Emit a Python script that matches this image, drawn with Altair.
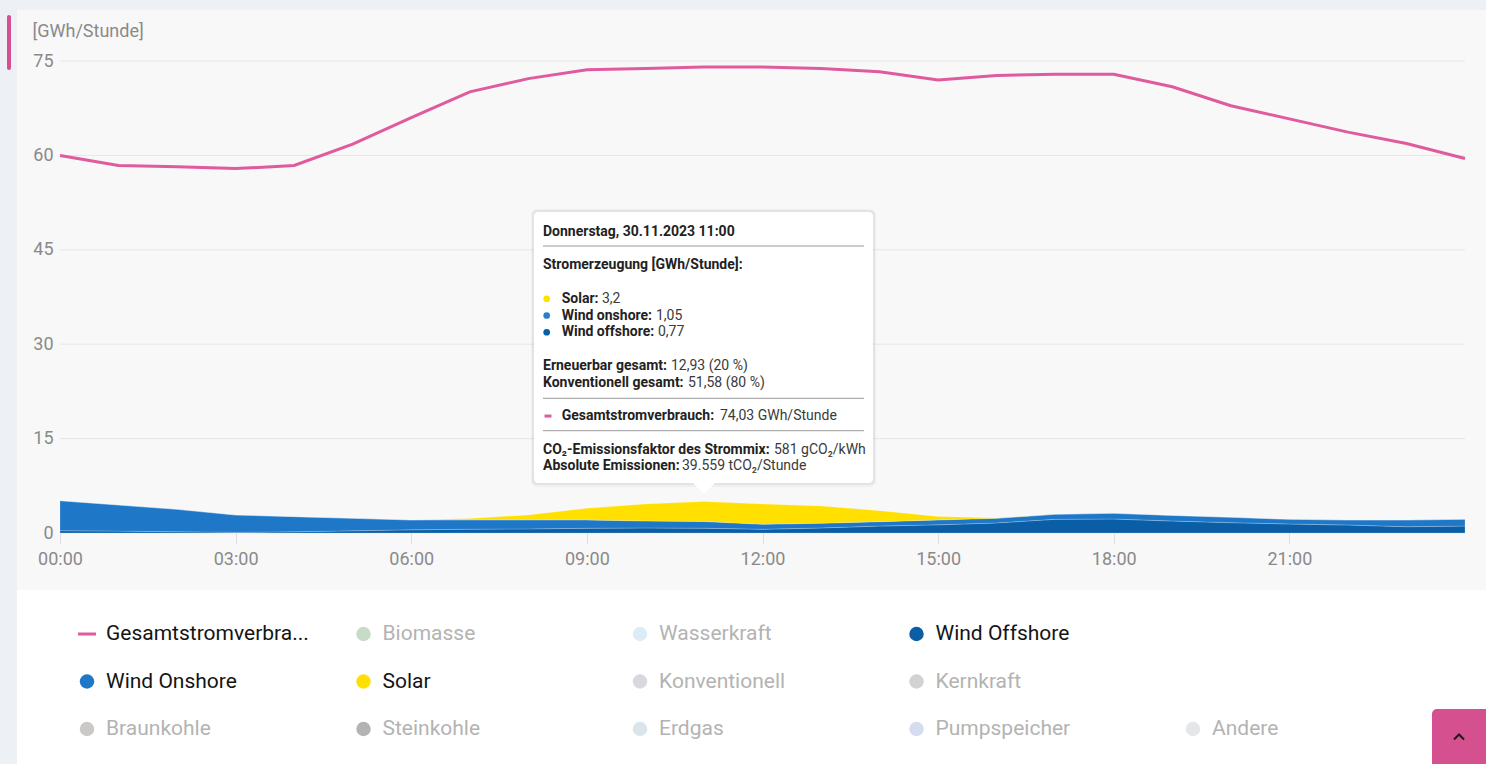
import altair as alt
import pandas as pd

# ---------------- data ----------------
HOURS = list(range(25))
GESAMTVERBRAUCH = [60.0, 58.4, 58.2, 57.9, 58.4, 61.8, 66.0, 70.1, 72.2, 73.6, 73.8, 74.03, 74.05,
                   73.8, 73.3, 72.0, 72.7, 72.9, 72.9, 70.9, 67.9, 65.8, 63.7, 61.9, 59.5]
WIND_OFFSHORE = [0.37, 0.3, 0.2, 0.1, 0.2, 0.35, 0.5, 0.6, 0.65, 0.75, 0.8, 0.77, 0.59,
                 0.8, 1.1, 1.3, 1.6, 2.17, 2.22, 1.9, 1.64, 1.43, 1.27, 1.0, 1.1]
WIND_ONSHORE = [4.76, 4.15, 3.56, 2.76, 2.4, 1.98, 1.57, 1.47, 1.42, 1.32, 1.1, 1.05, 0.79,
                0.74, 0.7, 0.77, 0.73, 0.8, 0.91, 0.9, 0.86, 0.74, 0.8, 1.07, 1.07]
SOLAR = [0, 0, 0, 0, 0, 0, 0, 0.25, 0.8, 1.85, 2.7, 3.2, 3.22,
         2.75, 1.75, 0.55, 0.05, 0, 0, 0, 0, 0, 0, 0, 0]

Y_TICKS = [0, 15, 30, 45, 60, 75]
X_TICKS = [0, 3, 6, 9, 12, 15, 18, 21]

SERIES = ["Wind Offshore", "Wind Onshore", "Solar"]
SERIES_COLORS = ["#0a5ea6", "#1f77c8", "#ffe000"]

LEGEND_ROWS = [
    ["Gesamtstromverbrauch", "Biomasse", "Wasserkraft", "Wind Offshore"],
    ["Wind Onshore", "Solar", "Konventionell", "Kernkraft"],
    ["Braunkohle", "Steinkohle", "Erdgas", "Pumpspeicher", "Andere"],
]
LEGEND_LABELS = {"Gesamtstromverbrauch": "Gesamtstromverbra..."}
LEGEND_COLORS = {
    "Gesamtstromverbrauch": "#e05a9e", "Biomasse": "#c6dcc6", "Wasserkraft": "#dcecf7",
    "Wind Offshore": "#0a5ea6", "Wind Onshore": "#1f77c8", "Solar": "#ffe000",
    "Konventionell": "#d8d8de", "Kernkraft": "#d2d2d2", "Braunkohle": "#cdc8c8",
    "Steinkohle": "#b3b3b3", "Erdgas": "#d9e5ea", "Pumpspeicher": "#d6dcef", "Andere": "#e5e6e8",
}
LEGEND_ACTIVE = ["Gesamtstromverbrauch", "Wind Offshore", "Wind Onshore", "Solar"]

TT_ROW = [0, 2, 4, 5, 6, 8, 9, 11, 13, 14]
TT_LABEL = ["Donnerstag, 30.11.2023 11:00", "Stromerzeugung [GWh/Stunde]:", "Solar:",
            "Wind onshore:", "Wind offshore:", "Erneuerbar gesamt:", "Konventionell gesamt:",
            "Gesamtstromverbrauch:", "CO₂-Emissionsfaktor des Strommix:", "Absolute Emissionen:"]
TT_VALUE = ["", "", "3,2", "1,05", "0,77", "12,93 (20 %)", "51,58 (80 %)",
            "74,03 GWh/Stunde", "581 gCO₂/kWh", "39.559 tCO₂/Stunde"]
TT_BULLET_COLORS = {4: "#ffe000", 5: "#2a7fc8", 6: "#0a5ea6"}

# ---------------- layout / style ----------------
FONT = "Roboto"
PINK = "#e05a9e"
LEFT, TOP = 60, 61
PW, PH = 1405, 472
VALUE_X = {4: 602, 5: 656, 6: 658, 8: 671, 9: 688, 11: 720, 13: 774, 14: 682}
INDENT_ROWS = [4, 5, 6, 11]
TT_Y0, TT_DY = 231.7, 16.76
LEG_X0, LEG_DX = 87, 276.5
LEG_Y0, LEG_DY = 634, 47.5


def px(x):
    return x - LEFT


def py(y):
    return y - TOP


one = pd.DataFrame({"k": [0]})


def box(x1, x2, y1, y2, color, **kw):
    return alt.Chart(one).mark_rect(color=color, **kw).encode(
        x=alt.value(px(x1)), x2=alt.value(px(x2)), y=alt.value(py(y1)), y2=alt.value(py(y2)))


def hrule(x1, x2, y, color):
    return alt.Chart(one).mark_rule(color=color, strokeWidth=1).encode(
        x=alt.value(px(x1)), x2=alt.value(px(x2)), y=alt.value(py(y)))


def label(x, y, text, **kw):
    return alt.Chart(one).mark_text(align="left", baseline="middle", font=FONT, text=text,
                                    **kw).encode(x=alt.value(px(x)), y=alt.value(py(y)))


def dot(x, y, color, size, **kw):
    return alt.Chart(one).mark_point(color=color, size=size, opacity=1, **kw).encode(
        x=alt.value(px(x)), y=alt.value(py(y)))


# ---------------- main plot ----------------
df = pd.DataFrame({"stunde": HOURS, "Wind Offshore": WIND_OFFSHORE, "Wind Onshore": WIND_ONSHORE,
                   "Solar": SOLAR, "verbrauch": GESAMTVERBRAUCH})
long = df.melt(id_vars="stunde", value_vars=SERIES, var_name="serie", value_name="wert")
long["ord"] = long["serie"].map({s: i for i, s in enumerate(SERIES)})

xscale = alt.Scale(domain=[0, 24], nice=False, zero=False)
yscale = alt.Scale(domain=[0, 75], nice=False)

xaxis = alt.Axis(values=X_TICKS, labelExpr="(datum.value < 10 ? '0' : '') + datum.value + ':00'",
                 grid=False, domain=False, ticks=True, tickColor="#dcdcdc", tickSize=10,
                 labelPadding=7, labelColor="#8a8a8a", labelFontSize=18, labelFont=FONT,
                 labelFlush=False, labelOverlap=False, title=None)
yaxis = alt.Axis(values=Y_TICKS, grid=False, domain=False, ticks=False, labelPadding=7,
                 labelColor="#8a8a8a", labelFontSize=18, labelFont=FONT,
                 title="[GWh/Stunde]", titleAngle=0, titleAlign="left", titleBaseline="middle",
                 titleX=-28, titleY=-30, titleFont=FONT, titleFontSize=18,
                 titleFontWeight="normal", titleColor="#8a8a8a")

grid = alt.Chart(pd.DataFrame({"t": Y_TICKS})).mark_rule(color="#e6e6e6", strokeWidth=1).encode(
    y=alt.Y("t:Q", scale=yscale, axis=yaxis), x=alt.value(0), x2=alt.value(PW))

area = alt.Chart(long).mark_area(interpolate="linear", stroke="#ffffff", strokeWidth=1,
                                 strokeOpacity=0.2).encode(
    x=alt.X("stunde:Q", scale=xscale, axis=xaxis),
    y=alt.Y("wert:Q", stack="zero", scale=yscale),
    color=alt.Color("serie:N", scale=alt.Scale(domain=SERIES, range=SERIES_COLORS), legend=None),
    order=alt.Order("ord:Q", sort="ascending"),
)

line = alt.Chart(df).mark_line(color=PINK, strokeWidth=3, interpolate="linear").encode(
    x=alt.X("stunde:Q", scale=xscale),
    y=alt.Y("verbrauch:Q", scale=yscale),
)

# ---------------- legend (positions from row / column index) ----------------
legend_layers = []
for r, row in enumerate(LEGEND_ROWS):
    for c, name in enumerate(row):
        cx, cy = LEG_X0 + c * LEG_DX, LEG_Y0 + r * LEG_DY
        if name == "Gesamtstromverbrauch":
            legend_layers.append(dot(cx, cy, PINK, 324, shape="stroke", strokeWidth=3,
                                     filled=False))
        else:
            legend_layers.append(dot(cx, cy, LEGEND_COLORS[name], 210, shape="circle",
                                     filled=True))
        legend_layers.append(label(cx + 19, cy, LEGEND_LABELS.get(name, name), fontSize=21,
                                   color="#141414" if name in LEGEND_ACTIVE else "#b3b3b3"))

# ---------------- tooltip ----------------
tt_layers = [
    box(531, 876, 209, 487, "#000000", opacity=0.03, cornerRadius=6),
    box(532, 875, 210, 485, "#000000", opacity=0.05, cornerRadius=5),
    box(534, 873, 212, 483, "#ffffff", cornerRadius=4),
    dot(704, 483, "#ffffff", 484, shape="M-1,0L1,0L0,1Z", filled=True),
    hrule(543, 864, 246, "#9a9a9a"), hrule(543, 864, 398.3, "#9a9a9a"),
    hrule(543, 864, 430.7, "#9a9a9a"),
]
for r, lab, val in zip(TT_ROW, TT_LABEL, TT_VALUE):
    y = TT_Y0 + r * TT_DY
    x0 = 561.7 if r in INDENT_ROWS else 543
    tt_layers.append(label(x0, y, lab, fontSize=14, fontWeight="bold", color="#222222"))
    if val:
        tt_layers.append(label(VALUE_X[r], y, val, fontSize=14, color="#3a3a3a"))
    if r in TT_BULLET_COLORS:
        tt_layers.append(dot(546.7, y, TT_BULLET_COLORS[r], 45, shape="circle", filled=True))
tt_layers.append(dot(548, TT_Y0 + 11 * TT_DY, PINK, 49, shape="stroke", strokeWidth=3,
                     filled=False))

# ---------------- page decoration (kept clear of the axis areas) ----------------
PAGE = "#edf1f5"
deco_back = [
    box(0, 1486, 0, 10, PAGE),
    box(0, 17, 0, 764, PAGE),
    box(17, 1486, 590, 764, "#ffffff"),
    box(7, 11, 15, 70, "#d4508f", cornerRadius=2),
]
deco_front = [
    box(1432, 1486, 709, 764, "#d4508f", cornerRadiusTopLeft=5),
    dot(1459, 737, "#1a1a1a", 100, shape="M-1,0.5L0,-0.5L1,0.5", filled=False, strokeWidth=2),
]

chart = alt.layer(
    *deco_back, grid, area, line, *tt_layers, *legend_layers, *deco_front,
).properties(
    width=PW, height=PH,
    padding={"left": LEFT, "top": TOP, "right": 1486 - LEFT - PW, "bottom": 764 - TOP - PH},
    autosize=alt.AutoSizeParams(type="none"),
    background="#f8f8f8",
).configure_view(stroke=None)

chart.save("out.html", embed_options={"renderer": "svg", "actions": False})
